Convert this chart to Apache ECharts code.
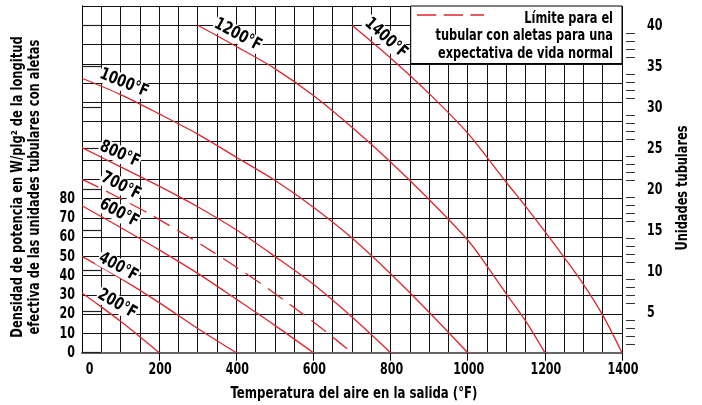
<!DOCTYPE html>
<html><head><meta charset="utf-8">
<script src="https://cdn.jsdelivr.net/npm/echarts@6/dist/echarts.min.js"></script>
<style>html,body{margin:0;padding:0;background:#fff}#c{width:702px;height:405px}</style>
</head><body><div id="c"></div>
<script>
const FONT = "'DejaVu Sans Condensed','Liberation Sans Narrow','Arial Narrow',sans-serif";
const xTickLabels = [0, 200, 400, 600, 800, 1000, 1200, 1400];
const leftTickLabels = [0, 10, 20, 30, 40, 50, 60, 70, 80];
const rightTickLabels = [0, 5, 10, 15, 20, 25, 30, 35, 40];
const rightMinorTicks = [1,2,3,4,6,7,8,9,11,12,13,14,16,17,18,19,21,22,23,24,26,27,28,29,31,32,33,34,36,37,38,39];

const t200 = [0, 50, 100, 150, 200];
const v200 = [31, 23.8, 16.3, 8.3, 0];
const t400 = [0, 100, 200, 300, 400];
const v400 = [50, 38.6, 26, 12.6, 0];
const t600 = [0, 100, 200, 300, 400, 500, 600];
const v600 = [76.3, 65, 53.4, 41.2, 27.8, 14.2, 0];
const t700 = [0, 42, 107, 172, 232, 315, 414, 473, 531, 587, 643, 700];
const v700 = [90, 86, 79.3, 72.4, 65.4, 55.4, 42.6, 34.6, 26.2, 17.9, 9.2, 0];
const t800 = [0, 100, 200, 300, 400, 500, 600, 700, 800];
const v800 = [106.5, 96.5, 86.5, 75.8, 63.8, 50, 35.5, 18.5, 0];
const t1000 = [0, 100, 200, 300, 400, 500, 600, 700, 800, 900, 1000];
const v1000 = [142.5, 134, 124, 113.5, 101.5, 89.5, 75.5, 59.5, 41, 21, 0];
const t1200 = [300, 400, 500, 600, 700, 800, 900, 1000, 1050, 1100, 1150, 1200];
const v1200 = [170, 159, 147.5, 133.5, 117, 99, 79.5, 58.5, 45, 30.5, 16.5, 0];
const t1400 = [700, 800, 900, 1000, 1100, 1150, 1200, 1250, 1300, 1350, 1400];
const v1400 = [170, 153, 134.5, 114, 88.5, 76, 63, 49.5, 35.5, 19.5, 0];

const curveNames = ['200°F', '400°F', '600°F', '700°F', '800°F', '1000°F', '1200°F', '1400°F'];
const curveT = [t200, t400, t600, t700, t800, t1000, t1200, t1400];
const curveV = [v200, v400, v600, v700, v800, v1000, v1200, v1400];
const labelT = [91, 94, 96, 101, 98, 109, 404, 788];
const labelV = [25.3, 44.5, 72.5, 86.5, 103, 140, 165, 163.4];
const labelAngle = [-30, -29, -28, -27, -24, -22, -28, -42];
const dashedCurve = '700°F';
const legendText = 'Límite para el\ntubular con aletas para una\nexpectativa de vida normal';
const xTitle = 'Temperatura del aire en la salida (°F)';
const leftTitle = 'Densidad de potencia en W/plg² de la longitud\nefectiva de las unidades tubulares con aletas';
const rightTitle = 'Unidades tubulares';

const RED = '#e0262d';
const GRID = '#111';
const SX = 0.8;

const series = curveNames.map((name, i) => ({
  type: 'line',
  name: name,
  xAxisIndex: 0,
  yAxisIndex: 0,
  data: curveT[i].map((t, j) => [t, curveV[i][j]]),
  showSymbol: false,
  smooth: 0.3,
  silent: true,
  z: 3,
  lineStyle: { color: RED, width: 1.3, type: name === dashedCurve ? [18, 9] : 'solid' }
}));

const chart = echarts.init(document.getElementById('c'), null, { renderer: 'canvas' });
chart.setOption({
  animation: false,
  backgroundColor: '#fff',
  grid: { left: 82, right: 80, top: 6, bottom: 52.3 },
  xAxis: [
    {
      type: 'value', min: 0, max: 1400, interval: 50, position: 'bottom',
      axisLine: { show: true, lineStyle: { color: '#666', width: 2 } },
      axisTick: { show: false }, axisLabel: { show: false },
      splitLine: { show: true, lineStyle: { color: GRID, width: 1 } }
    },
    {
      type: 'value', min: 0, max: 1400, interval: 200, position: 'bottom',
      axisLine: { show: false },
      axisTick: { show: true, length: 8, customValues: xTickLabels.filter(v => v > 0), lineStyle: { color: '#000', width: 1 } },
      splitLine: { show: false },
      axisLabel: { show: false }
    }
  ],
  yAxis: [
    {
      type: 'value', min: 0, max: 180, interval: 10, position: 'left',
      axisLine: { show: true, lineStyle: { color: '#000', width: 1 } },
      axisTick: { show: false },
      splitLine: { show: true, lineStyle: { color: GRID, width: 1 } },
      axisLabel: { show: false }
    },
    {
      type: 'value', min: 0, max: 42.3, interval: 5, position: 'right',
      axisLine: { show: true, lineStyle: { color: '#000', width: 1 } },
      axisTick: { show: true, length: 19, customValues: rightTickLabels, lineStyle: { color: '#222', width: 1.2 } },
      splitLine: { show: false },
      axisLabel: { show: false }
    },
    {
      type: 'value', min: 0, max: 42.3, interval: 1, position: 'right', offset: 4,
      axisLine: { show: false },
      axisTick: { show: true, length: 9, customValues: rightMinorTicks, lineStyle: { color: '#333', width: 1 } },
      axisLabel: { show: false }, splitLine: { show: false }
    }
  ],
  series: series
});

// texts placed through the chart's own scales
const txt = (text, x, y, opt) => Object.assign({
  type: 'text', x: x, y: y, z: 60, scaleX: SX,
  style: Object.assign({ text: text, fill: '#000', fontSize: 16, fontWeight: 'bold', fontFamily: FONT,
    align: 'center', verticalAlign: 'middle' }, opt && opt.style || {})
}, opt && opt.el || {});

const gr = [];
xTickLabels.forEach(v => {
  const p = chart.convertToPixel({ xAxisIndex: 0, yAxisIndex: 0 }, [v, 0]);
  gr.push(txt(String(v), p[0] + (v === 0 ? 7.5 : 1), p[1] + 17, { el: { scaleX: 0.77 } }));
});
leftTickLabels.forEach(v => {
  const p = chart.convertToPixel({ xAxisIndex: 0, yAxisIndex: 0 }, [0, v]);
  gr.push(txt(String(v), p[0] - 7, p[1], { el: { scaleX: 0.77 }, style: { align: 'right' } }));
});
rightTickLabels.filter(v => v > 0).forEach(v => {
  const py = chart.convertToPixel({ yAxisIndex: 1 }, v);
  const px = chart.convertToPixel({ xAxisIndex: 0, yAxisIndex: 0 }, [1400, 0])[0];
  gr.push(txt(String(v), px + 25, py + 1, { el: { scaleX: 0.77 }, style: { align: 'left' } }));
});
curveNames.forEach((name, i) => {
  const p = chart.convertToPixel({ xAxisIndex: 0, yAxisIndex: 0 }, [labelT[i], labelV[i]]);
  gr.push(txt(name, p[0], p[1], {
    el: { rotation: labelAngle[i] * Math.PI / 180, scaleX: 0.84, z: 40 },
    style: { fontSize: 17, backgroundColor: '#fff', padding: [0, 1] }
  }));
});
// axis titles
gr.push(txt(xTitle, 354, 394, { el: { scaleX: 0.815 } }));
gr.push(txt(leftTitle, 26.5, 187, { el: { rotation: Math.PI / 2 }, style: { lineHeight: 17 } }));
gr.push(txt(rightTitle, 683, 188, { el: { rotation: Math.PI / 2, scaleX: 0.79 } }));
// legend box
gr.push({ type: 'rect', z: 50, shape: { x: 410.7, y: 6, width: 211.3, height: 57.5 },
  style: { fill: '#fff', stroke: '#000', lineWidth: 1 } });
gr.push({ type: 'line', z: 51, shape: { x1: 417, y1: 15, x2: 484, y2: 15 },
  style: { stroke: RED, lineWidth: 1.3, lineDash: [19.3, 7.4] } });
gr.push(txt(legendText, 613, 36, { el: { scaleX: 0.79 }, style: { align: 'right', lineHeight: 17.5 } }));

chart.setOption({ graphic: gr });
</script></body></html>
